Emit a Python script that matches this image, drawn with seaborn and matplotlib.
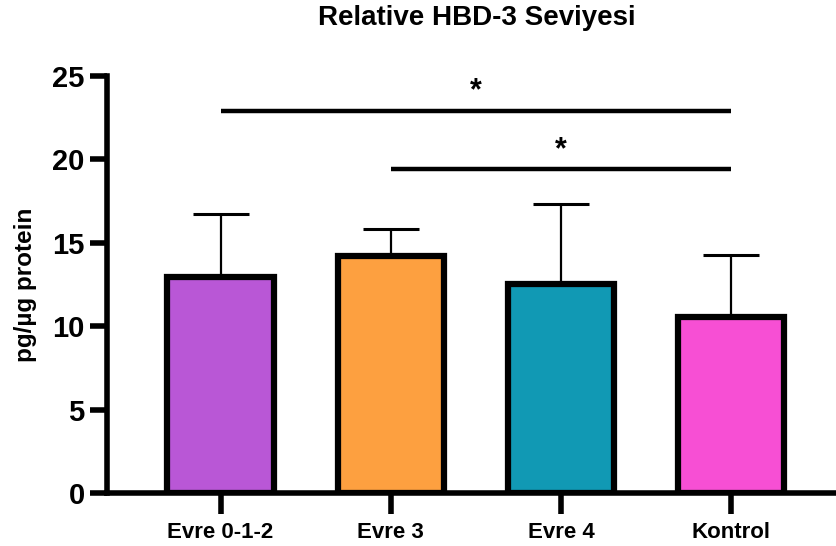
import numpy as np
import pandas as pd
import matplotlib
matplotlib.use("Agg")
import matplotlib.pyplot as plt
import seaborn as sns

# Group means and upper error (SD) of HBD-3 levels
groups = ["Evre 0-1-2", "Evre 3", "Evre 4", "Kontrol"]
means = [12.95, 14.2, 12.55, 10.55]
sd = [3.8, 1.65, 4.8, 3.7]
colors = ["#B957D6", "#FDA040", "#1199B4", "#F74FD4"]

# Significance brackets: (start group, end group, height, label)
brackets = [(0, 3, 22.9, "*"), (1, 3, 19.4, "*")]

yticks = [0, 5, 10, 15, 20, 25]

sns.set_style("ticks")
plt.rcParams["font.family"] = ["Liberation Sans", "DejaVu Sans"]
plt.rcParams["font.weight"] = "bold"
for key in ["text.color", "axes.labelcolor", "xtick.color", "ytick.color",
            "axes.edgecolor"]:
    plt.rcParams[key] = "black"

df = pd.DataFrame({"group": groups, "value": means})

fig = plt.figure(figsize=(8.37, 5.46), dpi=100)
ax = fig.add_axes([0.1278, 0.0965, 0.8722, 0.7648])

sns.barplot(data=df, x="group", y="value", hue="group", palette=colors,
            saturation=1, legend=False, width=0.625, edgecolor="black",
            linewidth=4.5, errorbar=None, ax=ax, zorder=3)

xpos = np.arange(len(groups))
ax.errorbar(xpos, means, yerr=[np.zeros(len(sd)), sd], fmt="none",
            ecolor="black", elinewidth=1.6, capsize=20, capthick=2.2, zorder=2)

for i0, i1, h, lab in brackets:
    ax.plot([xpos[i0], xpos[i1]], [h, h], color="black", lw=3.2,
            solid_capstyle="butt", zorder=4, clip_on=False)
    ax.text((xpos[i0] + xpos[i1]) / 2, h + 0.25, lab, ha="center", va="bottom",
            fontsize=22, fontweight="bold")

ax.set_xlim(-0.668, 3.623)
ax.set_ylim(0, 25)
ax.set_yticks(yticks)
ax.set_yticklabels([str(t) for t in yticks], fontsize=21, fontweight="bold")
ax.tick_params(axis="y", length=12, width=4, pad=4)
ax.tick_params(axis="x", length=15, width=4, pad=6, labelsize=16)
for lbl in ax.get_xticklabels():
    lbl.set_fontweight("bold")

ax.set_xlabel("")
ax.set_ylabel("pg/µg protein", fontsize=17.5, fontweight="bold", labelpad=11)
fig.text(0.5693, 0.967, "Relative HBD-3 Seviyesi", ha="center", va="center",
         fontsize=20, fontweight="bold")

for side in ["top", "right"]:
    ax.spines[side].set_visible(False)
for side in ["left", "bottom"]:
    ax.spines[side].set_linewidth(4)
    ax.spines[side].set_capstyle("projecting")

fig.savefig("out.png", dpi=100)
